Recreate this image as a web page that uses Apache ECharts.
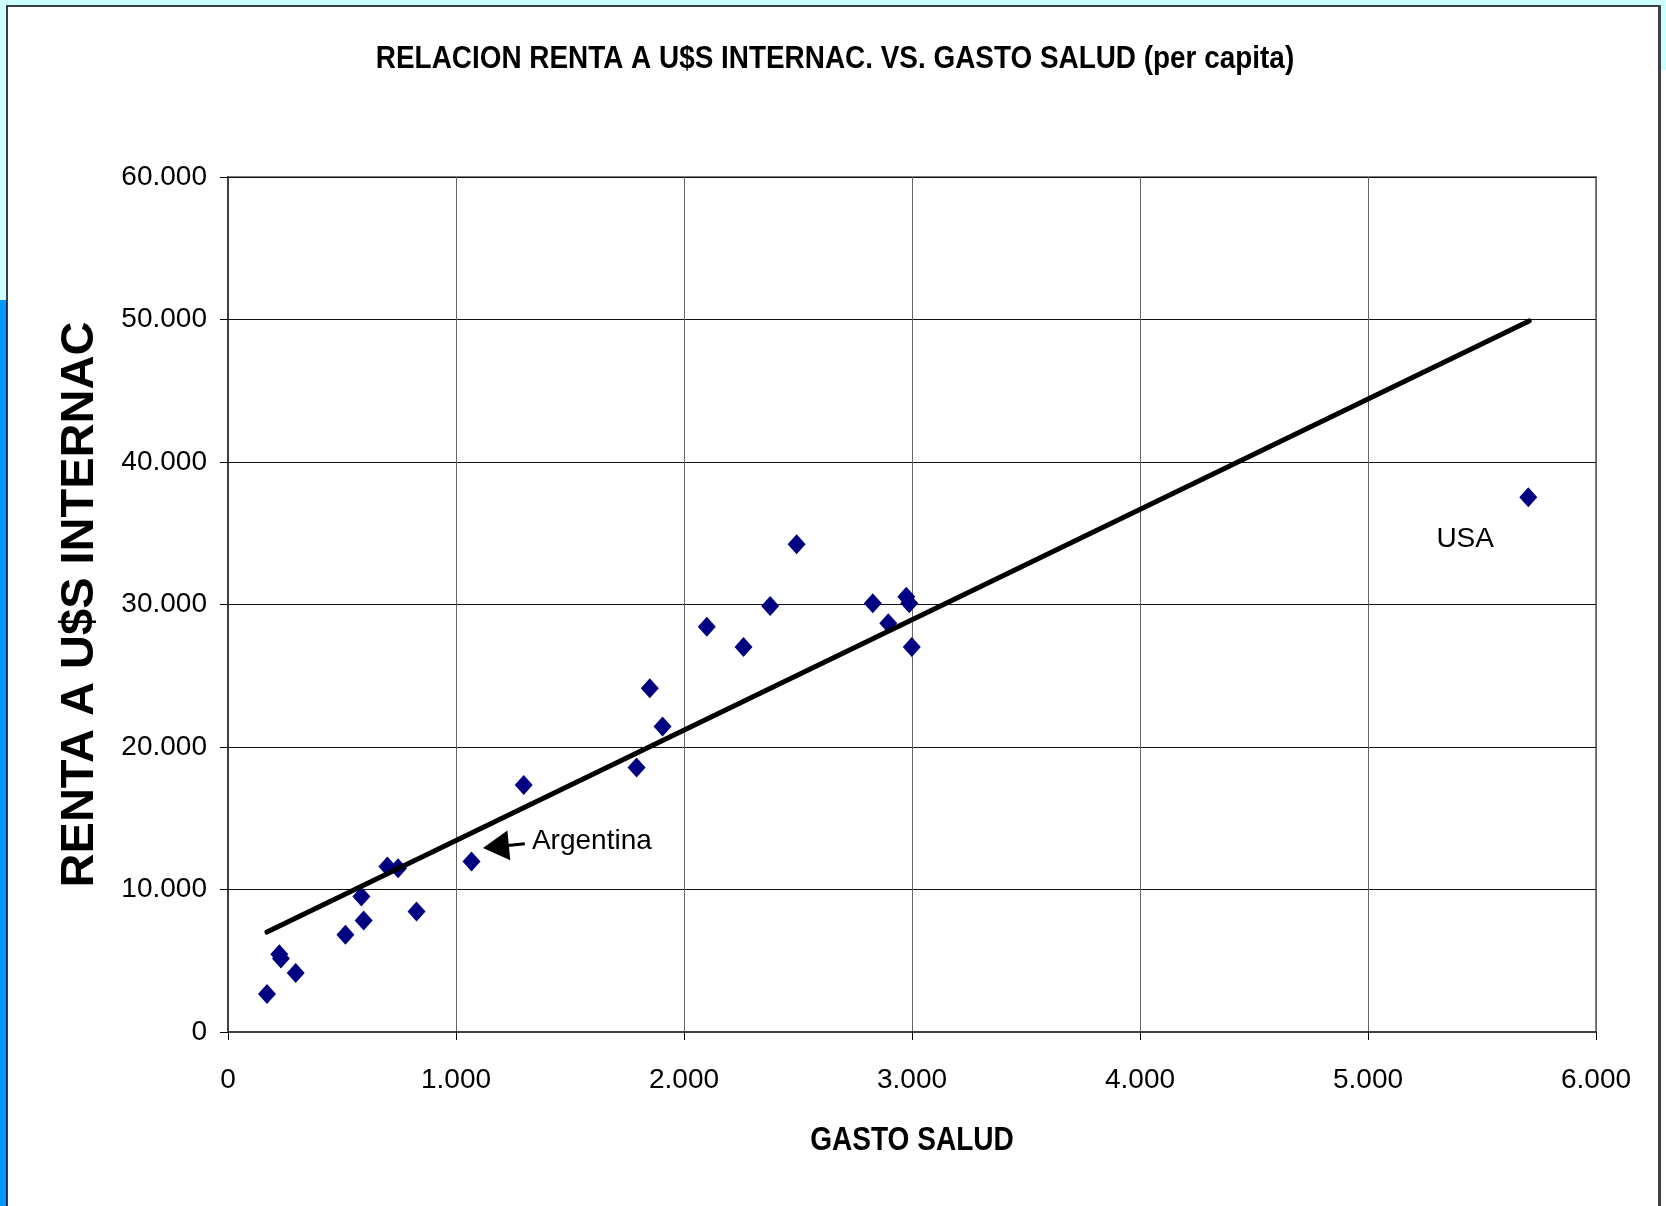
<!DOCTYPE html>
<html>
<head>
<meta charset="utf-8">
<script src="https://cdn.jsdelivr.net/npm/echarts@6/dist/echarts.min.js"></script>
<style>
html,body{margin:0;padding:0;background:#CCFFFF;}
#chart{width:1666px;height:1206px;}
</style>
</head>
<body>
<div id="chart"></div>
<script>
// ---- data ----
const gastoSalud = [171, 225, 232, 297, 515, 585, 595, 699, 746, 827, 1068, 1297, 1792, 1850, 1906, 2100, 2261, 2378, 2494, 2828, 2896, 2975, 2988, 2999, 5703];
const rentaIntl  = [2660, 5450, 5150, 4137, 6823, 9509, 7826, 11613, 11500, 8457, 11964, 17342, 18555, 24123, 21431, 28443, 27020, 29895, 34222, 30084, 28682, 30547, 30084, 27020, 37518];
const trendX = [171, 5707];
const trendY = [7010, 49900];
const xTicks = [0, 1000, 2000, 3000, 4000, 5000, 6000];
const yTicks = [0, 10000, 20000, 30000, 40000, 50000, 60000];
const labelTexts = ['Argentina', 'USA'];
const labelX = [1333, 5300];
const labelY = [13380, 34600];
const arrowFrom = [1302, 13205];
const arrowTo = [1175, 13008];
const titleText = 'RELACION RENTA A U$S INTERNAC. VS. GASTO SALUD (per capita)';
const xName = 'GASTO SALUD';
const yName = 'RENTA A U$S INTERNAC';

function fmt(v){
  return String(Math.round(v)).replace(/\B(?=(\d{3})+(?!\d))/g, '.');
}

const chart = echarts.init(document.getElementById('chart'), null, {renderer:'canvas'});
const points = gastoSalud.map((x,i)=>[x, rentaIntl[i]]);
const trend = trendX.map((x,i)=>[x, trendY[i]]);
const sans = "'Liberation Sans', Arial, sans-serif";

chart.setOption({
  backgroundColor: '#CCFFFF',
  animation: false,
  graphic: [
    {type:'rect', z:-100, shape:{x:0, y:300, width:8, height:906}, style:{fill:'#0099FF'}},
    {type:'rect', z:-100, shape:{x:1661, y:70, width:5, height:1136}, style:{fill:'#FFFFFF'}},
    {type:'rect', z:-99, shape:{x:7, y:6, width:1653, height:1210}, style:{fill:'#FFFFFF', stroke:'#000000', lineWidth:1.5}},
    {type:'rect', z:-98, shape:{x:1658, y:6, width:3, height:1210}, style:{fill:'#404040'}},
    {type:'text', z:10, x:835, y:59, scaleX:0.872,
     style:{text: titleText, fontFamily: sans, fontWeight:'bold', fontSize:32, fill:'#000', align:'center', verticalAlign:'middle'}},
    {type:'text', z:10, x:912, y:1141, scaleX:0.85,
     style:{text: xName, fontFamily: sans, fontWeight:'bold', fontSize:33, fill:'#000', align:'center', verticalAlign:'middle'}}
  ],
  grid: {
    left: 228, top: 177, right: 70, bottom: 174,
    show: true, backgroundColor: '#FFFFFF', borderColor: '#808080', borderWidth: 2,
    outerBoundsMode: 'none'
  },
  xAxis: {
    type: 'value', min: xTicks[0], max: xTicks[xTicks.length-1], interval: xTicks[1]-xTicks[0],
    axisLine: {show: true, onZero: false, lineStyle: {color: '#404040', width: 2}},
    axisTick: {show: true, inside: false, length: 8, lineStyle: {color: '#000', width: 1}},
    axisLabel: {margin: 34, fontFamily: sans, fontSize: 28, color: '#000', formatter: fmt},
    splitLine: {show: true, lineStyle: {color: '#666666', width: 1}}
  },
  yAxis: {
    type: 'value', min: yTicks[0], max: yTicks[yTicks.length-1], interval: yTicks[1]-yTicks[0],
    name: yName, nameLocation: 'middle', nameGap: 124,
    nameTextStyle: {fontFamily: sans, fontWeight: 'bold', fontSize: 47, color: '#000'},
    axisLine: {show: true, onZero: false, lineStyle: {color: '#404040', width: 2}},
    axisTick: {show: true, inside: false, length: 8, lineStyle: {color: '#000', width: 1}},
    axisLabel: {margin: 21, fontFamily: sans, fontSize: 28, color: '#000', formatter: fmt},
    splitLine: {show: true, lineStyle: {color: '#111111', width: 1}}
  },
  series: [
    {
      type: 'scatter',
      data: points,
      symbol: 'diamond',
      symbolSize: [18, 20],
      itemStyle: {color: '#000080', opacity: 1},
      z: 3,
      markPoint: {
        symbol: 'circle', symbolSize: 0,
        label: {show: true, position: 'right', distance: 0, color: '#000', fontSize: 28, fontFamily: sans,
                formatter: p => p.name},
        data: labelTexts.map((t,i)=>({name: t, coord: [labelX[i], labelY[i]]}))
      },
      markLine: {
        silent: true,
        symbol: ['none', 'triangle'],
        symbolSize: [30, 26],
        label: {show: false},
        lineStyle: {color: '#000', width: 3, type: 'solid'},
        data: [[{coord: arrowFrom}, {coord: arrowTo}]]
      }
    },
    {
      type: 'line',
      data: trend,
      showSymbol: false,
      symbol: 'none',
      lineStyle: {color: '#000', width: 5, cap: 'round'},
      z: 4
    }
  ]
});
</script>
</body>
</html>
